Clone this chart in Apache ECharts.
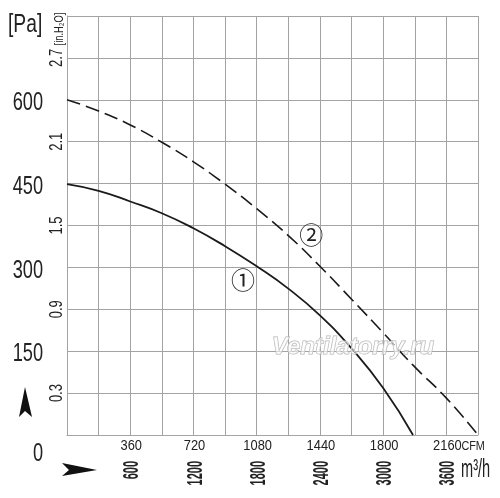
<!DOCTYPE html>
<html>
<head>
<meta charset="utf-8">
<script src="https://cdn.jsdelivr.net/npm/echarts@6/dist/echarts.min.js"></script>
<style>
html,body{margin:0;padding:0;background:#fff;}
#c{width:500px;height:498px;}
</style>
</head>
<body>
<div id="c"></div>
<script>
// ---- data ----
const curve1Flow = [0, 180, 360, 540, 720, 900, 1080, 1260, 1440, 1620, 1800, 1970];
const curve1Pa   = [449, 437, 418, 397, 370, 338, 302, 262, 214, 155, 84, 0];
const curve2Flow = [0, 180, 360, 540, 720, 900, 1080, 1260, 1440, 1620, 1800, 1970, 2160, 2340];
const curve2Pa   = [600, 580, 555, 524, 489, 449, 405, 357, 302, 243, 183, 125, 66, 0];
const paTicks    = [0, 150, 300, 450, 600];
const inH2OTicks = [0.3, 0.9, 1.5, 2.1, 2.7];
const cfmTicks   = [360, 720, 1080, 1440, 1800, 2160];
const m3hTicks   = [600, 1200, 1800, 2400, 3000, 3600];
const curveLabels = [
  { text: '①', flow: 1002, pa: 272 },
  { text: '②', flow: 1390, pa: 353 }
];

const FONT = '"Liberation Sans", Arial, sans-serif';
const txt = '#222';
const gridCol = '#a3a3a3';

const chart = echarts.init(document.getElementById('c'));
chart.setOption({
  animation: false,
  backgroundColor: '#fff',
  grid: { left: 67, right: 22, top: 16, bottom: 63, containLabel: false },
  xAxis: [
    {
      type: 'value', min: 0, max: 2340, interval: 180, position: 'bottom',
      axisLine: { show: true, lineStyle: { color: gridCol, width: 1 } },
      axisTick: { show: false },
      splitLine: { show: true, lineStyle: { color: gridCol, width: 1 } },
      axisLabel: { show: false }
    },
    {
      type: 'value', min: 0, max: 3900, interval: 300, position: 'bottom', offset: 0,
      axisLine: { show: false }, axisTick: { show: false }, splitLine: { show: false },
      axisLabel: { show: false }
    }
  ],
  yAxis: [
    {
      type: 'value', min: 0, max: 750, interval: 75, position: 'left',
      axisLine: { show: true, lineStyle: { color: gridCol, width: 1 } },
      axisTick: { show: false },
      splitLine: { show: true, lineStyle: { color: gridCol, width: 1 } },
      axisLabel: { show: false }
    },
    {
      type: 'value', min: 0, max: 3.0, interval: 0.3, position: 'left', offset: 0,
      axisLine: { show: false }, axisTick: { show: false }, splitLine: { show: false },
      axisLabel: { show: false }
    }
  ],
  series: [
    {
      type: 'line', xAxisIndex: 0, yAxisIndex: 0, smooth: 0.5, symbol: 'none',
      lineStyle: { color: '#1a1a1a', width: 1.8 },
      data: curve1Flow.map((f, i) => [f, curve1Pa[i]]),
      z: 3
    },
    {
      type: 'line', xAxisIndex: 0, yAxisIndex: 0, smooth: 0.5, symbol: 'none',
      lineStyle: { color: '#1a1a1a', width: 1.6, type: [14, 6] },
      data: curve2Flow.map((f, i) => [f, curve2Pa[i]]),
      z: 3
    }
  ]
});

const graphics = [];
function addText(o) {
  graphics.push({
    type: 'text', x: o.x, y: o.y, rotation: o.rot || 0, scaleX: o.sx || 1, z: 20,
    style: {
      text: o.text, fontFamily: o.font || FONT, fontSize: o.fs, fontWeight: o.fw || 'normal',
      fontStyle: o.fst || 'normal', fill: o.fill || txt, stroke: o.stroke, lineWidth: o.lw || 0,
      textAlign: o.align || 'center', textVerticalAlign: o.valign || 'middle'
    }
  });
}
const px = (axis, v) => chart.convertToPixel(axis, v);

// Pa tick labels
paTicks.forEach(function (v) {
  const y = px({ yAxisIndex: 0 }, v);
  addText({ text: String(v), x: 43, y: v === 0 ? y + 19 : y + 3, fs: 26, sx: 0.7, align: 'right' });
});
// in.H2O tick labels (rotated)
inH2OTicks.forEach(function (v) {
  const y = px({ yAxisIndex: 1 }, v);
  addText({ text: v.toFixed(1), x: 66, y: y, fs: 18, sx: 0.72, rot: Math.PI / 2, valign: 'bottom' });
});
// CFM tick labels
cfmTicks.forEach(function (v, i) {
  const x = px({ xAxisIndex: 0 }, v);
  addText({ text: String(v), x: x + 1, y: 446, fs: 14, sx: 0.92 });
  if (i === cfmTicks.length - 1) {
    addText({ text: 'CFM', x: x + 15, y: 447, fs: 12, sx: 0.9, align: 'left' });
  }
});
// m3/h tick labels (rotated, condensed, bold)
m3hTicks.forEach(function (v) {
  const x = px({ xAxisIndex: 1 }, v);
  addText({ text: String(v), x: x + 2, y: 461, fs: 22, sx: 0.5, fw: 'bold', rot: Math.PI / 2, align: 'right' });
});
// axis titles
addText({ text: '[Pa]', x: 8, y: 12, fs: 26, sx: 0.74, align: 'left', valign: 'top' });
addText({ text: '[in.H₂O]', x: 66, y: 29, fs: 13, sx: 0.72, rot: Math.PI / 2, valign: 'bottom' });
addText({ text: 'm³/h', x: 461, y: 470, fs: 26, sx: 0.56, align: 'left' });
// watermark
addText({ text: 'Ventilatorry.ru', x: 353, y: 347, fs: 24, fw: 'bold', fst: 'italic',
  fill: 'rgba(255,255,255,0.55)', stroke: '#b5b5b5', lw: 1 });
// curve labels
curveLabels.forEach(function (l) {
  const p = chart.convertToPixel({ xAxisIndex: 0, yAxisIndex: 0 }, [l.flow, l.pa]);
  addText({ text: l.text, x: p[0], y: p[1], fs: 24, font: '"DejaVu Serif", "Noto Sans CJK JP", serif', fill: '#222' });
});
// arrows
graphics.push({ type: 'polygon', shape: { points: [[25, 387], [32, 417], [25, 411], [19, 417]] }, style: { fill: '#111' } });
graphics.push({ type: 'polygon', shape: { points: [[62, 463], [97, 470], [62, 476], [69, 470]] }, style: { fill: '#111' } });

chart.setOption({ graphic: graphics });
</script>
</body>
</html>
